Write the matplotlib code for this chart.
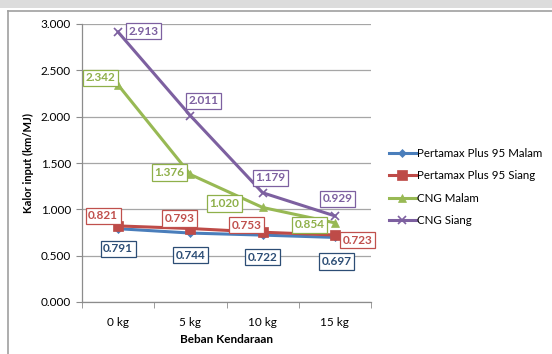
import matplotlib
matplotlib.use("Agg")
import matplotlib.pyplot as plt
from matplotlib.patches import Rectangle
from matplotlib.lines import Line2D

categories = ["0 kg", "5 kg", "10 kg", "15 kg"]
pertamax_malam = [0.791, 0.744, 0.722, 0.697]
pertamax_siang = [0.821, 0.793, 0.753, 0.723]
cng_malam = [2.342, 1.376, 1.020, 0.854]
cng_siang = [2.913, 2.011, 1.179, 0.929]
y_ticks = [0.0, 0.5, 1.0, 1.5, 2.0, 2.5, 3.0]

plt.rcParams["font.family"] = ["Lato", "DejaVu Sans"]

fig = plt.figure(figsize=(5.52, 3.54), dpi=100)
fig.patch.set_facecolor("white")

# page header band and chart frame (top and left edges)
fig.patches.append(Rectangle((0, 1 - 8 / 354), 1, 8 / 354, transform=fig.transFigure,
                             facecolor="#dcdcdc", edgecolor="none"))
fig.lines.append(Line2D([8 / 552, 1], [1 - 11 / 354] * 2, transform=fig.transFigure,
                        color="#a0a0a0", linewidth=1.2))
fig.lines.append(Line2D([8 / 552] * 2, [0, 1 - 11 / 354], transform=fig.transFigure,
                        color="#a0a0a0", linewidth=1.2))

ax = fig.add_axes([82 / 552, 1 - 302 / 354, 289 / 552, 278 / 354])
x = list(range(len(categories)))

series = [
    ("Pertamax Plus 95 Malam", pertamax_malam, "#4A7EBB", "D", 4, "#2C4D75", [(0, -20), (0, -22), (0, -22), (2, -24)]),
    ("Pertamax Plus 95 Siang", pertamax_siang, "#BE4B48", "s", 7, "#C0504D", [(-15, 10), (-11, 10), (-16, 7), (23, -5)]),
    ("CNG Malam", cng_malam, "#98B954", "^", 6, "#8FB04A", [(-18, 7), (-21, 2), (-38, 4), (-25, -2)]),
    ("CNG Siang", cng_siang, "#7D60A0", "x", 6, "#7D60A0", [(25, 1), (13, 15), (8, 15), (3, 17)]),
]

for name, vals, color, marker, ms, tcolor, offs in series:
    ax.plot(x, vals, color=color, linewidth=2.2, marker=marker, markersize=ms,
            markeredgewidth=1.2 if marker == "x" else 0.5,
            markeredgecolor=color, markerfacecolor=color, label=name, zorder=3)
    for xi, v, (dx, dy) in zip(x, vals, offs):
        ax.annotate(f"{v:.3f}", (xi, v), xytext=(dx, dy), textcoords="offset pixels",
                    ha="center", va="center", fontsize=8.5, fontweight="bold",
                    color=tcolor, zorder=5,
                    bbox=dict(boxstyle="square,pad=0.22", fc="white", ec=tcolor, lw=0.9))

ax.set_xlim(-0.5, len(categories) - 0.5)
ax.set_ylim(0, 3.0)
ax.set_yticks(y_ticks)
ax.set_yticklabels([f"{t:.3f}" for t in y_ticks], fontsize=8.5)
ax.set_xticks(x)
ax.set_xticklabels(categories, fontsize=8.5)
ax.set_xticks([i - 0.5 for i in range(len(categories) + 1)], minor=True)
ax.tick_params(axis="x", which="major", length=0, pad=11)
ax.tick_params(axis="x", which="minor", length=4, color="#8c8c8c", direction="out")
ax.tick_params(axis="y", length=4, color="#8c8c8c", direction="out", pad=4)
ax.grid(axis="y", color="#a6a6a6", linewidth=0.9)
ax.set_axisbelow(True)
for s in ["top", "right"]:
    ax.spines[s].set_visible(False)
for s in ["left", "bottom"]:
    ax.spines[s].set_color("#8c8c8c")
    ax.spines[s].set_linewidth(0.9)

ax.set_xlabel("Beban Kendaraan", fontsize=8.5, fontweight="bold", labelpad=4)
ax.set_ylabel("Kalor input (km/MJ)", fontsize=8, fontweight="bold", labelpad=5)

fig.legend(loc="upper left", bbox_to_anchor=(384 / 552, 1 - 143 / 354),
           frameon=False, fontsize=8.3, handlelength=2.4, labelspacing=1.0,
           handletextpad=0.1, borderaxespad=0)

fig.savefig("out.png", dpi=100, facecolor="white")
